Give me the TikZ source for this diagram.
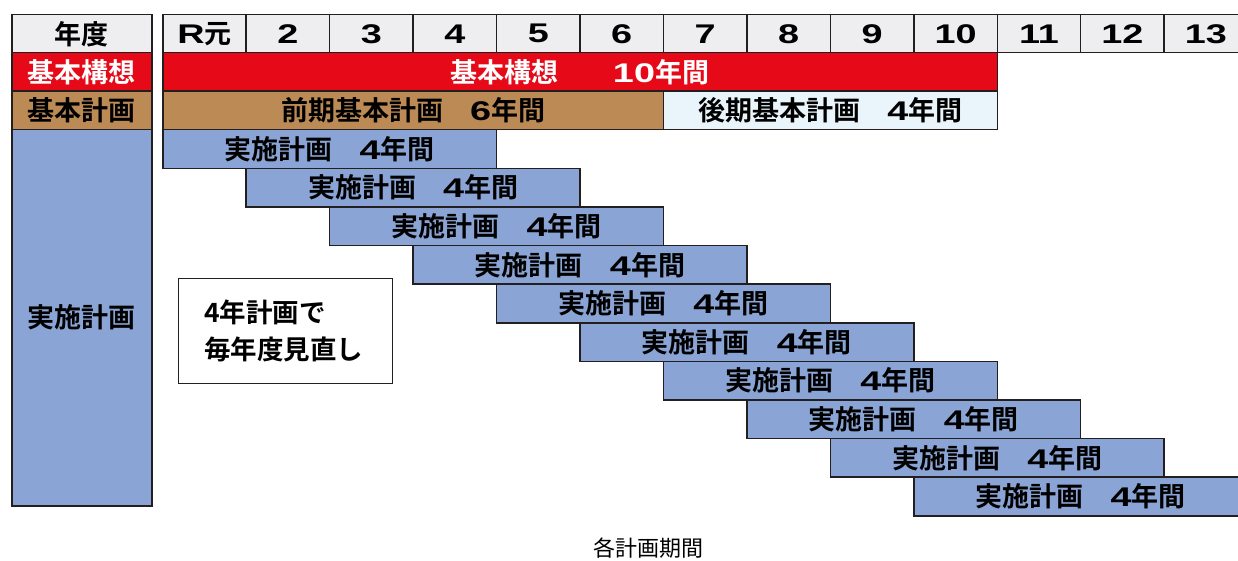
\documentclass[tikz,border=0pt]{standalone}
\usepackage{fontspec}
\setmainfont{Noto Sans CJK JP}[BoldFont={Noto Sans CJK JP Bold}]
\newfontfamily\numfont{Liberation Sans Bold}[FakeStretch=1.4]
\newcommand\nm[1]{{\numfont #1}}
\definecolor{lineC}{RGB}{35,31,32}
\definecolor{hdrC}{RGB}{238,238,240}
\definecolor{redC}{RGB}{230,10,25}
\definecolor{brownC}{RGB}{188,138,85}
\definecolor{ltblueC}{RGB}{234,244,251}
\definecolor{blueC}{RGB}{138,165,213}
\tikzset{
  cell/.style={draw=lineC, line width=1.5pt, inner sep=0pt, anchor=north west,
    font=\bfseries\fontsize{27}{30}\selectfont},
  hdrcell/.style={cell, fill=hdrC, minimum height=38pt},
  rowcell/.style={cell, minimum height=38.5pt},
  barcell/.style={cell, fill=blueC, minimum width=333.8pt, minimum height=38.6pt},
}
\begin{document}
\begin{tikzpicture}[x=1pt,y=-1pt]
\useasboundingbox (0,0) rectangle (1238,561);
\clip (0,0) rectangle (1238,561);
% header
\node[hdrcell, minimum width=140pt] (hy) at (11,14) {年度};
\foreach \i/\t in {0/{\nm{R}元},1/\nm{2},2/\nm{3},3/\nm{4},4/\nm{5},5/\nm{6},6/\nm{7},7/\nm{8},8/\nm{9},9/\nm{10},10/\nm{11},11/\nm{12},12/\nm{13}}
  \node[hdrcell, minimum width=83.45pt] (h\i) at ({162+83.45*\i},14) {\t};
% row labels
\node[rowcell, fill=redC, text=white, minimum width=140pt] (lk) at (11,52) {基本構想};
\node[rowcell, fill=brownC, minimum width=140pt] (lp) at (11,90.5) {基本計画};
\node[cell, fill=blueC, minimum width=140pt, minimum height=376pt] (lj) at (11,129) {実施計画};
% vision & plans
\node[rowcell, fill=redC, text=white, minimum width=834.5pt] (kk) at (162,52) {基本構想　　\nm{10}年間};
\node[rowcell, fill=brownC, minimum width=500.7pt] (zp) at (162,90.5) {前期基本計画　\nm{6}年間};
\node[rowcell, fill=ltblueC, minimum width=333.8pt] (kp) at (662.7,90.5) {後期基本計画　\nm{4}年間};
% implementation bars
\foreach \i in {0,...,9}
  \node[barcell] (b\i) at ({162+83.45*\i},{129+38.6*\i}) {実施計画　\nm{4}年間};
% note
\node[draw=lineC, line width=1.2pt, fill=white, minimum width=214pt, minimum height=105pt, inner sep=0pt, anchor=north west] (note) at (178,278) {};
\node[font=\bfseries\fontsize{26.5}{37}\selectfont, align=left, inner sep=0pt] (notetext) at ([xshift=-2pt]note.center) {4年計画で\\毎年度見直し};
% caption
\node[font=\fontsize{22}{26}\selectfont, inner sep=0pt] (cap) at (648,548) {各計画期間};
\end{tikzpicture}
\end{document}
